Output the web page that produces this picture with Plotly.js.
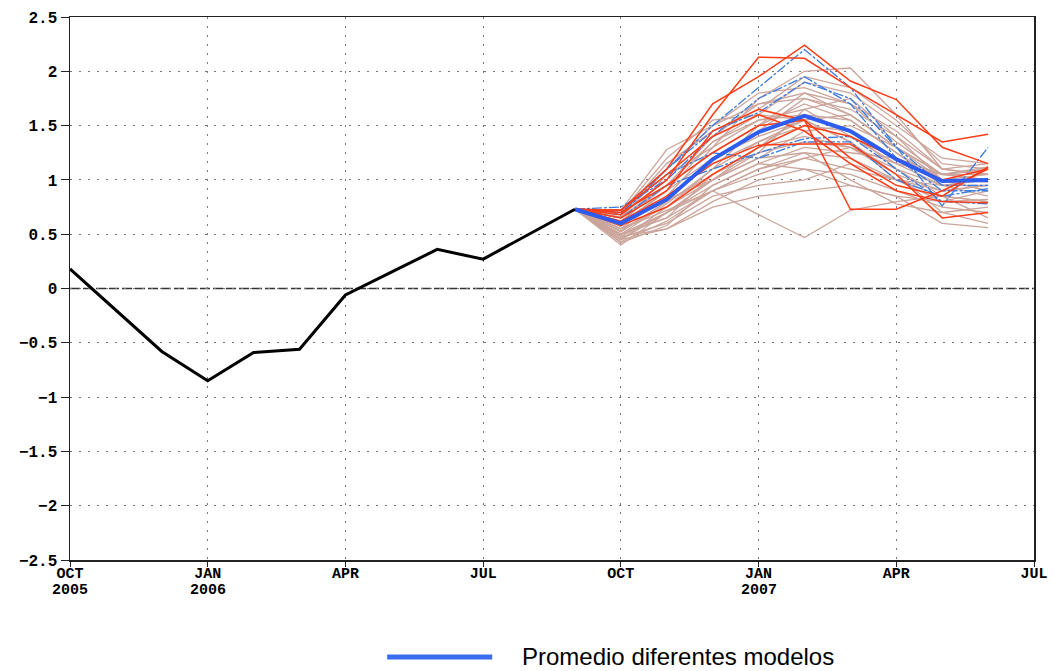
<!DOCTYPE html>
<html>
<head>
<meta charset="utf-8">
<script src="https://cdn.plot.ly/plotly-3.0.1.min.js"></script>
<style>html,body{margin:0;padding:0;background:#fff;}#chart{width:1054px;height:671px;}</style>
</head>
<body>
<div id="chart"></div>
<script>
// Month index: 0 = OCT 2005 ... 21 = JUL 2007
const tickMonths = [0, 3, 6, 9, 12, 15, 18, 21];
const tickLabels = ["OCT", "JAN", "APR", "JUL", "OCT", "JAN", "APR", "JUL"];
const yearMonths = [0, 3, 15];
const yearLabels = ["2005", "2006", "2007"];
const yTicks = [-2.5, -2, -1.5, -1, -0.5, 0, 0.5, 1, 1.5, 2, 2.5];

// Observed index, OCT 2005 .. SEP 2006
const obsMonths = [0, 1, 2, 3, 4, 5, 6, 7, 8, 9, 10, 11];
const obsValues = [0.18, -0.2, -0.58, -0.85, -0.59, -0.56, -0.06, 0.15, 0.36, 0.27, 0.5, 0.73];

// Forecast months, SEP 2006 .. JUN 2007
const fcMonths = [11, 12, 13, 14, 15, 16, 17, 18, 19, 20];

// Multi-model mean
const meanValues = [0.73, 0.60, 0.82, 1.19, 1.44, 1.59, 1.45, 1.19, 0.99, 1.0];

// Individual members (tan)
const tanMembers = [
  [0.73, 0.55, 0.85, 1.30, 1.75, 2.00, 2.03, 1.60, 1.10, 1.05],
  [0.73, 0.60, 0.90, 1.35, 1.60, 1.90, 1.80, 1.50, 1.20, 1.15],
  [0.73, 0.45, 0.75, 1.10, 1.50, 1.80, 1.70, 1.35, 1.05, 1.00],
  [0.73, 0.40, 0.70, 1.00, 1.30, 1.60, 1.55, 1.25, 0.95, 0.95],
  [0.73, 0.50, 0.65, 0.90, 1.10, 1.25, 1.20, 1.00, 0.85, 0.80],
  [0.73, 0.48, 0.55, 0.80, 1.00, 1.10, 1.05, 0.90, 0.75, 0.70],
  [0.73, 0.45, 0.70, 0.90, 0.68, 0.47, 0.72, 0.80, 0.85, 0.80],
  [0.73, 0.55, 0.75, 1.00, 1.20, 1.45, 1.50, 1.30, 1.00, 0.90],
  [0.73, 0.62, 0.95, 1.40, 1.70, 1.75, 1.60, 1.30, 1.05, 1.10],
  [0.73, 0.58, 1.05, 1.30, 1.55, 1.65, 1.40, 1.15, 0.95, 1.00],
  [0.73, 0.52, 0.80, 1.20, 1.40, 1.55, 1.35, 1.05, 0.90, 0.95],
  [0.73, 0.47, 0.60, 0.85, 0.95, 1.00, 1.15, 1.00, 0.90, 0.95],
  [0.73, 0.50, 0.70, 0.95, 1.15, 1.30, 1.25, 1.20, 1.05, 1.10],
  [0.73, 0.65, 1.10, 1.50, 1.80, 1.85, 1.70, 1.45, 1.10, 1.15],
  [0.73, 0.60, 0.85, 1.15, 1.35, 1.50, 1.45, 1.10, 0.85, 0.65],
  [0.73, 0.55, 0.72, 0.90, 1.05, 1.20, 1.30, 1.05, 0.70, 0.60],
  [0.73, 0.45, 0.55, 0.75, 0.85, 0.90, 0.95, 0.85, 0.60, 0.56],
  [0.73, 0.50, 0.65, 1.05, 1.25, 1.65, 1.75, 1.40, 1.00, 0.90],
  [0.73, 0.68, 1.15, 1.45, 1.65, 1.95, 1.85, 1.55, 1.15, 1.10],
  [0.73, 0.62, 0.95, 1.25, 1.50, 1.70, 1.55, 1.25, 1.00, 1.05],
  [0.73, 0.53, 0.80, 1.05, 1.30, 1.40, 1.30, 1.10, 0.95, 1.00],
  [0.73, 0.57, 0.90, 1.20, 1.45, 1.75, 1.65, 1.40, 1.10, 1.05],
  [0.73, 0.43, 0.62, 0.90, 1.10, 1.20, 1.10, 1.00, 0.95, 0.85],
  [0.73, 0.66, 0.95, 1.35, 1.55, 1.60, 1.45, 1.20, 1.00, 0.98],
  [0.73, 0.50, 0.78, 1.10, 1.35, 1.55, 1.60, 1.30, 1.05, 1.00],
  [0.73, 0.60, 0.82, 1.00, 1.25, 1.35, 1.30, 1.15, 1.05, 1.12],
  [0.73, 0.70, 1.20, 1.55, 1.60, 1.55, 1.35, 1.00, 0.80, 0.90],
  [0.73, 0.48, 0.70, 1.00, 1.20, 1.25, 1.00, 0.78, 0.70, 0.75],
  [0.73, 0.72, 1.28, 1.50, 1.70, 1.80, 1.60, 1.30, 1.05, 1.05],
  [0.73, 0.42, 0.58, 0.95, 1.15, 1.10, 0.95, 0.85, 0.80, 0.82]
];

// Individual members (red)
const redMembers = [
  [0.73, 0.68, 1.00, 1.60, 2.13, 2.12, 1.85, 1.60, 1.35, 1.42],
  [0.73, 0.72, 1.10, 1.70, 1.95, 2.24, 1.91, 1.74, 1.30, 1.15],
  [0.73, 0.65, 0.90, 1.45, 1.65, 1.55, 1.20, 0.95, 0.85, 1.12],
  [0.73, 0.70, 0.95, 1.25, 1.50, 1.55, 0.73, 0.73, 0.90, 1.10],
  [0.73, 0.62, 0.85, 1.15, 1.32, 1.33, 1.33, 1.05, 0.65, 0.70],
  [0.73, 0.72, 1.05, 1.40, 1.60, 1.45, 1.15, 0.90, 0.80, 0.79],
  [0.73, 0.58, 0.75, 1.05, 1.30, 1.50, 1.40, 1.20, 1.00, 1.10]
];

// Individual members (blue)
const blueMembers = [
  [0.73, 0.72, 1.10, 1.50, 1.85, 2.20, 1.85, 1.30, 0.76, 1.30],
  [0.73, 0.75, 1.00, 1.40, 1.75, 1.95, 1.70, 1.20, 0.90, 0.90],
  [0.73, 0.70, 1.05, 1.25, 1.20, 1.35, 1.35, 1.00, 0.85, 0.92],
  [0.73, 0.65, 0.95, 1.10, 1.25, 1.38, 1.40, 1.10, 0.80, 0.78],
  [0.73, 0.68, 1.10, 1.45, 1.62, 1.90, 1.75, 1.30, 0.95, 0.95]
];

const traces = [];
tanMembers.forEach(m => traces.push({x: fcMonths, y: m, type: 'scatter', mode: 'lines',
  line: {color: '#cba59b', width: 1.3}, showlegend: false, hoverinfo: 'skip'}));
blueMembers.forEach(m => traces.push({x: fcMonths, y: m, type: 'scatter', mode: 'lines',
  line: {color: '#3b7be0', width: 1.3, dash: '10px,2px,3px,2px'}, showlegend: false, hoverinfo: 'skip'}));
redMembers.forEach(m => traces.push({x: fcMonths, y: m, type: 'scatter', mode: 'lines',
  line: {color: '#ff3c16', width: 1.5}, showlegend: false, hoverinfo: 'skip'}));
traces.push({x: fcMonths, y: meanValues, type: 'scatter', mode: 'lines',
  line: {color: '#2d5cf0', width: 4}, showlegend: false});
traces.push({x: obsMonths, y: obsValues, type: 'scatter', mode: 'lines',
  line: {color: '#000000', width: 3}, showlegend: false});

const tickFont = {family: 'Liberation Mono, Courier New, monospace', size: 15, color: '#000', weight: 'bold'};

const yearAnnotations = yearMonths.map((m, i) => ({
  xref: 'x', yref: 'paper', x: m, y: -0.056, xanchor: 'center', yanchor: 'middle',
  text: yearLabels[i], showarrow: false, font: tickFont
}));

const layout = {
  width: 1054, height: 671,
  margin: {l: 70, r: 20, t: 17, b: 111},
  paper_bgcolor: '#fff', plot_bgcolor: '#fff',
  xaxis: {
    range: [0, 21], tickvals: tickMonths, ticktext: tickLabels,
    showgrid: true, gridcolor: '#777', griddash: '2px,7px', gridwidth: 1,
    showline: true, linecolor: '#222', linewidth: 1.5, mirror: true,
    ticks: 'outside', ticklen: 5, tickcolor: '#222', zeroline: false,
    ticklabelstandoff: -7,
    tickfont: tickFont
  },
  yaxis: {
    range: [-2.5, 2.5], tickvals: yTicks,
    showgrid: true, gridcolor: '#777', griddash: '2px,7px', gridwidth: 1,
    showline: true, linecolor: '#222', linewidth: 1.5, mirror: true,
    ticks: 'outside', ticklen: 8, tickcolor: '#222', zeroline: false,
    tickfont: Object.assign({}, tickFont, {size: 16})
  },
  shapes: [
    {type: 'line', xref: 'x', yref: 'y', x0: 0, x1: 21, y0: 0, y1: 0,
     line: {color: '#333', width: 1.5, dash: '10px,3px'}, layer: 'below'},
    {type: 'line', xref: 'paper', yref: 'paper', x0: 0.329, x1: 0.438, y0: -0.1786, y1: -0.1786,
     line: {color: '#3a6ef2', width: 5}}
  ],
  annotations: yearAnnotations.concat([
    {xref: 'paper', yref: 'paper', x: 0.4668, y: -0.1786, xanchor: 'left', yanchor: 'middle',
     text: 'Promedio diferentes modelos', showarrow: false,
     font: {family: 'Liberation Sans, Arial, sans-serif', size: 24, color: '#000'}}
  ])
};

Plotly.newPlot('chart', traces, layout, {displayModeBar: false, staticPlot: true});
</script>
</body>
</html>
